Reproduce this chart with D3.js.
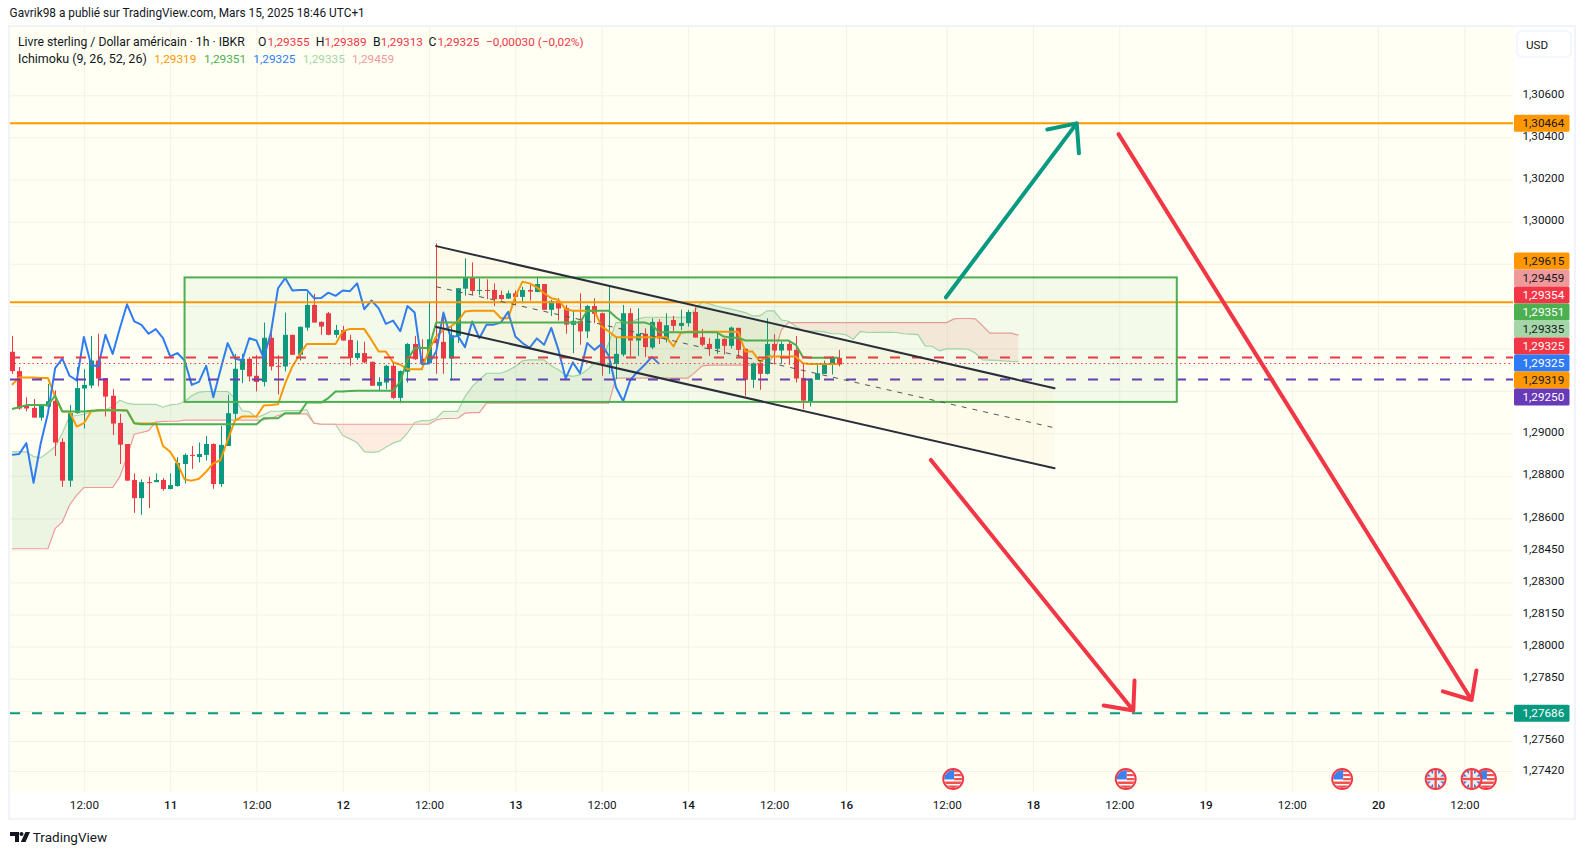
<!DOCTYPE html>
<html><head><meta charset="utf-8">
<script src="https://cdnjs.cloudflare.com/ajax/libs/d3/7.8.5/d3.min.js"></script>
<style>
html,body{margin:0;padding:0;background:#fff;overflow:hidden}
svg{display:block}
text{font-family:"Roboto","Noto Sans",sans-serif;fill:#131722}
.tick text{font-size:11.7px}
</style></head><body><svg id="c" width="1585" height="855"></svg>
<script>
// ---- candles (GBP/USD, 1h)
const openV=[1.29376,1.29285,1.29123,1.29112,1.29066,1.29118,1.29145,1.28952,1.28770,1.29087,
1.29203,1.29217,1.29335,1.29252,1.29169,1.29041,1.28942,1.28773,1.28688,1.28763,
1.28763,1.28773,1.28731,1.28745,1.28848,1.28891,1.28881,1.28891,1.28942,1.28754,
1.28933,1.29084,1.29291,1.29343,1.29263,1.29234,1.29442,1.29310,1.29307,1.29456,
1.29362,1.29490,1.29597,1.29517,1.29558,1.29456,1.29478,1.29432,1.29347,1.29370,
1.29329,1.29216,1.29231,1.29310,1.29159,1.29282,1.29413,1.29344,1.29322,
1.29435,1.29423,1.29344,1.29451,1.29674,1.29726,1.29665,1.29668,1.29668,1.29644,
1.29627,1.29652,1.29635,1.29668,1.29658,1.29696,1.29574,1.29616,1.29583,1.29503,
1.29522,1.29472,1.29592,1.29558,1.29316,1.29319,1.29363,1.29558,1.29429,1.29461,
1.29396,1.29517,1.29435,1.29526,1.29498,1.29511,1.29564,1.29445,1.29413,1.29390,
1.29437,1.29404,1.29489,1.29390,1.29244,1.29322,1.29272,1.29413,1.29382,1.29413,
1.29385,1.29253,1.29140,1.29244,1.29272,1.29315,1.29347];
const highV=[1.29451,1.29304,1.29162,1.29153,1.29126,1.29225,1.29194,1.28969,1.29126,1.29304,
1.29294,1.29451,1.29461,1.29252,1.29200,1.29084,1.28942,1.28804,1.28776,1.28789,
1.28804,1.28782,1.28804,1.28880,1.28898,1.28933,1.28949,1.28980,1.28945,1.29027,
1.29173,1.29366,1.29366,1.29351,1.29360,1.29514,1.29464,1.29360,1.29561,1.29456,
1.29495,1.29655,1.29649,1.29519,1.29564,1.29503,1.29498,1.29456,1.29429,1.29423,
1.29329,1.29256,1.29315,1.29322,1.29288,1.29417,1.29451,1.29435,1.29613,
1.29888,1.29558,1.29495,1.29676,1.29817,1.29798,1.29723,1.29718,1.29699,1.29665,
1.29665,1.29665,1.29683,1.29694,1.29731,1.29696,1.29621,1.29629,1.29597,1.29574,
1.29652,1.29597,1.29629,1.29561,1.29683,1.29448,1.29597,1.29581,1.29581,1.29487,
1.29534,1.29530,1.29558,1.29545,1.29574,1.29574,1.29586,1.29484,1.29440,1.29467,
1.29440,1.29495,1.29489,1.29392,1.29325,1.29332,1.29534,1.29459,1.29424,1.29432,
1.29451,1.29319,1.29249,1.29319,1.29335,1.29354,1.29385];
const lowV=[1.29272,1.29103,1.29095,1.29066,1.29052,1.29118,1.28886,1.28741,1.28741,1.29084,
1.29015,1.29205,1.29213,1.29071,1.28985,1.28848,1.28770,1.28619,1.28610,1.28641,
1.28763,1.28723,1.28729,1.28741,1.28757,1.28825,1.28855,1.28864,1.28732,1.28741,
1.28933,1.29055,1.29228,1.29236,1.29189,1.29213,1.29288,1.29175,1.29283,1.29362,
1.29335,1.29476,1.29514,1.29456,1.29454,1.29442,1.29429,1.29310,1.29338,1.29322,
1.29216,1.29191,1.29200,1.29153,1.29134,1.29231,1.29338,1.29315,1.29322,
1.29272,1.29272,1.29241,1.29417,1.29641,1.29644,1.29643,1.29624,1.29592,1.29618,
1.29625,1.29597,1.29605,1.29618,1.29657,1.29574,1.29545,1.29523,1.29461,1.29370,
1.29409,1.29440,1.29511,1.29263,1.29272,1.29247,1.29354,1.29354,1.29357,1.29351,
1.29388,1.29413,1.29420,1.29473,1.29479,1.29495,1.29443,1.29401,1.29357,1.29366,
1.29363,1.29392,1.29351,1.29169,1.29206,1.29197,1.29269,1.29316,1.29319,1.29315,
1.29231,1.29106,1.29118,1.29244,1.29272,1.29269,1.29307];
const closeV=[1.29285,1.29109,1.29109,1.29066,1.29121,1.29143,1.28949,1.28770,1.29087,1.29205,
1.29220,1.29335,1.29250,1.29165,1.29038,1.28939,1.28770,1.28688,1.28763,1.28760,
1.28773,1.28731,1.28749,1.28853,1.28891,1.28888,1.28895,1.28942,1.28754,1.28938,
1.29087,1.29296,1.29343,1.29260,1.29234,1.29442,1.29307,1.29307,1.29456,1.29362,
1.29494,1.29597,1.29514,1.29495,1.29456,1.29479,1.29429,1.29347,1.29370,1.29326,
1.29216,1.29234,1.29310,1.29159,1.29285,1.29413,1.29341,1.29322,1.29435,
1.29417,1.29344,1.29454,1.29676,1.29726,1.29663,1.29668,1.29665,1.29624,1.29625,
1.29652,1.29635,1.29668,1.29660,1.29696,1.29574,1.29616,1.29580,1.29504,1.29522,
1.29472,1.29592,1.29555,1.29318,1.29322,1.29366,1.29558,1.29429,1.29461,1.29398,
1.29517,1.29439,1.29501,1.29498,1.29512,1.29564,1.29443,1.29409,1.29390,1.29437,
1.29404,1.29490,1.29385,1.29244,1.29322,1.29272,1.29413,1.29382,1.29413,1.29382,
1.29250,1.29146,1.29249,1.29275,1.29315,1.29347,1.29316];
// ---- Ichimoku (9,26,52,26)
const conversion=[1.29220,1.29255,1.29255,1.29255,1.29253,1.29252,1.29165,1.29095,1.29095,1.29024,
1.29040,1.29095,1.29099,1.29101,1.29101,1.29101,1.29099,1.29040,1.29038,1.29038,
1.29040,1.28933,1.28906,1.28851,1.28776,1.28770,1.28779,1.28812,1.28851,1.28867,
1.28961,1.29052,1.29071,1.29071,1.29071,1.29123,1.29125,1.29129,1.29228,1.29307,
1.29362,1.29413,1.29413,1.29413,1.29413,1.29413,1.29472,1.29484,1.29484,1.29483,
1.29432,1.29377,1.29377,1.29327,1.29315,1.29294,1.29294,1.29294,1.29385,
1.29448,1.29479,1.29495,1.29519,1.29566,1.29570,1.29570,1.29570,1.29570,1.29534,
1.29534,1.29636,1.29707,1.29699,1.29680,1.29652,1.29629,1.29621,1.29577,1.29570,
1.29570,1.29570,1.29570,1.29495,1.29472,1.29445,1.29445,1.29445,1.29445,1.29445,
1.29445,1.29445,1.29445,1.29401,1.29464,1.29470,1.29470,1.29470,1.29470,1.29470,
1.29470,1.29470,1.29470,1.29377,1.29377,1.29330,1.29354,1.29354,1.29354,1.29354,
1.29354,1.29322,1.29319,1.29319,1.29319,1.29319,1.29319];
const base=[1.29107,1.29115,1.29125,1.29125,1.29125,1.29126,1.29169,1.29095,1.29095,1.29095,
1.29095,1.29098,1.29101,1.29101,1.29101,1.29101,1.29099,1.29040,1.29035,1.29035,
1.29035,1.29035,1.29035,1.29035,1.29035,1.29035,1.29035,1.29035,1.29035,1.29035,
1.29035,1.29035,1.29035,1.29035,1.29035,1.29063,1.29063,1.29063,1.29087,1.29087,
1.29087,1.29137,1.29137,1.29137,1.29158,1.29189,1.29189,1.29191,1.29192,1.29192,
1.29192,1.29192,1.29192,1.29192,1.29236,1.29338,1.29393,1.29395,1.29393,
1.29514,1.29514,1.29514,1.29514,1.29514,1.29514,1.29514,1.29514,1.29514,1.29514,
1.29514,1.29514,1.29514,1.29514,1.29514,1.29514,1.29514,1.29514,1.29514,1.29514,
1.29514,1.29570,1.29570,1.29570,1.29570,1.29539,1.29514,1.29514,1.29514,1.29514,
1.29503,1.29468,1.29468,1.29468,1.29468,1.29468,1.29468,1.29468,1.29468,1.29468,
1.29448,1.29442,1.29442,1.29429,1.29429,1.29429,1.29429,1.29429,1.29429,1.29429,
1.29409,1.29351,1.29348,1.29348,1.29348,1.29348,1.29348];
const lagging=[1.28891,1.28895,1.28946,1.28760,1.28946,1.29087,1.29299,1.29344,1.29263,1.29241,
1.29446,1.29315,1.29307,1.29456,1.29366,1.29487,1.29600,1.29519,1.29503,1.29461,
1.29483,1.29440,1.29354,1.29370,1.29335,1.29220,1.29234,1.29310,1.29162,1.29291,
1.29417,1.29344,1.29335,1.29440,1.29429,1.29346,1.29464,1.29676,1.29724,1.29665,
1.29668,1.29668,1.29629,1.29630,1.29655,1.29640,1.29665,1.29662,1.29699,1.29577,
1.29618,1.29581,1.29508,1.29523,1.29473,1.29592,1.29561,1.29319,1.29321,
1.29377,1.29561,1.29445,1.29451,1.29398,1.29519,1.29440,1.29504,1.29504,1.29514,
1.29564,1.29448,1.29417,1.29395,1.29439,1.29409,1.29489,1.29385,1.29250,1.29326,
1.29275,1.29417,1.29385,1.29412,1.29357,1.29209,1.29143,1.29244,1.29282,1.29315,
1.29352,1.29319];
const spanA=[1.28905,1.28906,1.28905,1.28883,1.28878,1.28902,1.28930,1.28993,1.29071,1.29076,
1.29082,1.29095,1.29103,1.29103,1.29118,1.29148,1.29134,1.29128,1.29128,1.29128,
1.29128,1.29115,1.29126,1.29129,1.29142,1.29169,1.29186,1.29189,1.29189,1.29189,
1.29189,1.29158,1.29098,1.29095,1.29066,1.29079,1.29096,1.29096,1.29099,1.29099,
1.29099,1.29103,1.29040,1.29035,1.29035,1.29035,1.28982,1.28966,1.28949,1.28906,
1.28903,1.28906,1.28927,1.28946,1.28958,1.28993,1.29043,1.29052,1.29052,
1.29063,1.29095,1.29095,1.29095,1.29165,1.29212,1.29244,1.29275,1.29275,1.29275,
1.29288,1.29307,1.29333,1.29338,1.29338,1.29338,1.29310,1.29291,1.29267,1.29260,
1.29267,1.29291,1.29322,1.29333,1.29417,1.29514,1.29514,1.29514,1.29530,1.29539,
1.29539,1.29539,1.29539,1.29539,1.29539,1.29539,1.29574,1.29613,1.29602,1.29592,
1.29583,1.29577,1.29569,1.29561,1.29545,1.29545,1.29569,1.29569,1.29526,1.29520,
1.29495,1.29476,1.29473,1.29473,1.29470,1.29461,1.29461,1.29456,1.29435,1.29472,
1.29467,1.29468,1.29468,1.29468,1.29467,1.29461,1.29459,1.29457,1.29404,1.29402,
1.29380,1.29390,1.29390,1.29390,1.29388,1.29369,1.29338,1.29337,1.29336,1.29333,
1.29331,1.29330];
const spanB=[1.28451,1.28451,1.28451,1.28451,1.28451,1.28451,1.28545,1.28577,1.28655,1.28702,
1.28738,1.28738,1.28738,1.28738,1.28738,1.28789,1.28883,1.28988,1.28996,1.29005,
1.29045,1.29048,1.29049,1.29049,1.29054,1.29054,1.29054,1.29054,1.29054,1.29054,
1.29054,1.29054,1.29054,1.29054,1.29054,1.29055,1.29063,1.29076,1.29084,1.29084,
1.29084,1.29084,1.29040,1.29035,1.29035,1.29035,1.29035,1.29035,1.29035,1.29035,
1.29035,1.29035,1.29035,1.29035,1.29035,1.29035,1.29035,1.29035,1.29035,
1.29055,1.29062,1.29062,1.29063,1.29087,1.29090,1.29090,1.29134,1.29134,1.29134,
1.29134,1.29134,1.29134,1.29134,1.29134,1.29134,1.29134,1.29134,1.29134,1.29134,
1.29134,1.29134,1.29134,1.29134,1.29134,1.29252,1.29252,1.29252,1.29252,1.29252,
1.29252,1.29252,1.29252,1.29252,1.29252,1.29252,1.29279,1.29310,1.29313,1.29313,
1.29313,1.29313,1.29313,1.29313,1.29313,1.29313,1.29313,1.29362,1.29479,1.29514,
1.29514,1.29514,1.29514,1.29514,1.29514,1.29514,1.29514,1.29514,1.29514,1.29514,
1.29514,1.29514,1.29514,1.29514,1.29514,1.29514,1.29514,1.29514,1.29514,1.29514,
1.29514,1.29514,1.29531,1.29533,1.29533,1.29531,1.29498,1.29464,1.29464,1.29464,
1.29464,1.29454];
// ---- axes
const priceTicks=[1.306,1.304,1.302,1.300,1.298,1.296,1.294,1.292,1.290,1.288,1.286,1.2845,1.283,1.2815,1.280,1.2785,1.277,1.2756,1.2742];
const hiddenPriceLabels=[1.298,1.296,1.294,1.292,1.277];
const timeTicks=[10,22,34,46,58,70,82,94,106,116,130,142,154,166,178,190,202];
const timeLabels=["12:00","11","12:00","12","12:00","13","12:00","14","12:00","16","12:00","18","12:00","19","12:00","20","12:00"];
// ---- drawings (bar index, price)
const hLevels=[1.30464,1.29615,1.29354,1.29325,1.29250,1.27686];
const rectBars=[24,162], rectPrices=[1.29727,1.29140];
const channelBars=[59,145];
const channelUpper=[1.29875,1.29204], channelMid=[1.29683,1.29018], channelLower=[1.29493,1.28828];
const arrowBars=[[129.9,148.08],[127.8,155.95],[153.9,203]];
const arrowPrices=[[1.29633,1.30457],[1.28867,1.27696],[1.30406,1.27745]];
const usEvents=[130.9,154.9,185,205], ukEvents=[198,203];
const badgeValues=[1.29615,1.29459,1.29354,1.29351,1.29335,1.29325,1.29325,1.29319,1.29250];

const fmt=v=>d3.format(".5f")(v).replace(".",",");
const svg=d3.select("#c");
const L=10,R=1513,T=27,B=791.7;
const x=d3.scaleLinear().domain([-0.278,208.76]).range([L,R]);
const y=d3.scaleLog().domain([1.30926,1.27324]).range([T,B]);
const yS=d3.scaleLog().domain([1.30916,1.27319]).range([T,B]);
const RED="#f23645",GRN="#089981",ORG="#ff9800",BASEC="#4caf50",BLU="#2f7bf5",PUR="#673ab7";

// frame & background
svg.append("rect").attr("x",L-1).attr("y",T-1).attr("width",1575-L+1).attr("height",819-T+1).attr("fill","#fff").attr("stroke","#f0f3fa").attr("stroke-width",2);
svg.append("rect").attr("x",L).attr("y",T).attr("width",R-L).attr("height",B-T).attr("fill","#fffff4");
svg.append("defs").append("clipPath").attr("id","plot").append("rect").attr("x",L).attr("y",T).attr("width",R-L).attr("height",B-T);

// grid and axes through d3 axes
const gridC="#f2f2e6";
const gy=svg.append("g").attr("transform",`translate(${L},0)`).call(d3.axisRight(y).tickValues(priceTicks).tickSize(R-L).tickFormat(""));
gy.select(".domain").remove(); gy.selectAll("line").attr("stroke",gridC);
const gx=svg.append("g").attr("transform",`translate(0,${T})`).call(d3.axisBottom(x).tickValues(timeTicks).tickSize(B-T).tickFormat(""));
gx.select(".domain").remove(); gx.selectAll("line").attr("stroke",gridC);
const ay=svg.append("g").attr("transform",`translate(1522.5,-1.7)`).call(d3.axisRight(y).tickValues(priceTicks.filter(p=>!hiddenPriceLabels.includes(p))).tickSize(0).tickPadding(0).tickFormat(fmt));
ay.select(".domain").remove(); ay.selectAll("text").style("fill","#131722").attr("x",0);
const ax=svg.append("g").attr("transform",`translate(0,${B+9})`).call(d3.axisBottom(x).tickValues(timeTicks).tickSize(0).tickPadding(0).tickFormat((d,i)=>timeLabels[i]));
ax.select(".domain").remove(); ax.selectAll("text").style("font-weight",(d,i)=>timeLabels[i].includes(":")?400:500);

const plot=svg.append("g").attr("clip-path","url(#plot)");
const ix=d3.range(spanA.length);

// cloud
const defs=svg.select("defs");
const spanBLine=d3.line().x(i=>x(i)).y(i=>yS(spanB[i]));
defs.append("clipPath").attr("id","aboveB").append("path").attr("d",d3.area().x(i=>x(i)).y0(0).y1(i=>yS(spanB[i]))(ix));
defs.append("clipPath").attr("id","belowB").append("path").attr("d",d3.area().x(i=>x(i)).y0(855).y1(i=>yS(spanB[i]))(ix));
const cloud=d3.area().x(i=>x(i)).y0(i=>yS(spanA[i])).y1(i=>yS(spanB[i]));
plot.append("g").attr("clip-path","url(#aboveB)").append("path").attr("d",cloud(ix)).attr("fill","rgba(67,160,71,0.10)");
plot.append("g").attr("clip-path","url(#belowB)").append("path").attr("d",cloud(ix)).attr("fill","rgba(244,67,54,0.10)");
plot.append("path").attr("d",d3.line().x(i=>x(i)).y(i=>yS(spanA[i]))(ix)).attr("fill","none").attr("stroke","#a5d6a7").attr("stroke-width",1.2);
plot.append("path").attr("d",spanBLine(ix)).attr("fill","none").attr("stroke","#ef9a9a").attr("stroke-width",1.2);

// candles
const candles=plot.append("g").selectAll("g").data(openV.map((o,i)=>({i,o,h:highV[i],l:lowV[i],c:closeV[i]}))).join("g");
const colr=d=>d.c>=d.o?GRN:RED;
candles.append("line").attr("x1",d=>Math.round(x(d.i))+.5).attr("x2",d=>Math.round(x(d.i))+.5).attr("y1",d=>yS(d.h)).attr("y2",d=>yS(d.l)).attr("stroke",colr).attr("stroke-width",1);
candles.append("rect").attr("x",d=>Math.round(x(d.i))-2).attr("width",5).attr("y",d=>yS(Math.max(d.o,d.c))).attr("height",d=>Math.max(1,Math.abs(yS(d.o)-yS(d.c)))).attr("fill",colr);

// ichimoku lines
const ln=(arr,col)=>plot.append("path").attr("d",d3.line().x((d,i)=>x(i)).y(d=>yS(d))(arr)).attr("fill","none").attr("stroke",col).attr("stroke-width",2).attr("stroke-linejoin","round");
ln(conversion,ORG); ln(lagging,BLU); ln(base,BASEC);

// horizontal levels
const hStyle=[[ORG,2,null],[ORG,2,null],[RED,2,"10 12"],[RED,1,"1.5 3"],[PUR,2,"10 12"],[GRN,2,"10 12"]];
hLevels.forEach((p,i)=>{const l=plot.append("line").attr("x1",L).attr("x2",R).attr("y1",y(p)-.7).attr("y2",y(p)-.7).attr("stroke",hStyle[i][0]).attr("stroke-width",hStyle[i][1]);if(hStyle[i][2])l.attr("stroke-dasharray",hStyle[i][2]);});

// rectangle
plot.append("rect").attr("x",x(rectBars[0])).attr("y",yS(rectPrices[0])).attr("width",x(rectBars[1])-x(rectBars[0])).attr("height",yS(rectPrices[1])-yS(rectPrices[0])).attr("fill","rgba(76,175,80,0.06)").attr("stroke",BASEC).attr("stroke-width",2);

// channel
const cx=channelBars.map(b=>x(b));
plot.append("path").attr("d",`M${cx[0]},${yS(channelUpper[0])}L${cx[1]},${yS(channelUpper[1])}L${cx[1]},${yS(channelLower[1])}L${cx[0]},${yS(channelLower[0])}Z`).attr("fill","rgba(255,152,0,0.035)");
[channelUpper,channelLower].forEach(c=>plot.append("line").attr("x1",cx[0]).attr("x2",cx[1]).attr("y1",yS(c[0])).attr("y2",yS(c[1])).attr("stroke","#2a2e39").attr("stroke-width",2).attr("stroke-linecap","round"));
plot.append("line").attr("x1",cx[0]).attr("x2",cx[1]).attr("y1",yS(channelMid[0])).attr("y2",yS(channelMid[1])).attr("stroke","#555").attr("stroke-width",1).attr("stroke-dasharray","5 6");

// arrows
const arrowCols=[GRN,RED,RED];
arrowBars.forEach((b,k)=>{
  const x0=x(b[0]),y0=yS(arrowPrices[k][0]),x1=x(b[1]),y1=yS(arrowPrices[k][1]);
  const a=Math.atan2(y0-y1,x0-x1),len=30,ang=0.72;
  const d=`M${x0},${y0}L${x1},${y1}M${x1+len*Math.cos(a+ang)},${y1+len*Math.sin(a+ang)}L${x1},${y1}L${x1+len*Math.cos(a-ang)},${y1+len*Math.sin(a-ang)}`;
  plot.append("path").attr("d",d).attr("fill","none").attr("stroke",arrowCols[k]).attr("stroke-width",4).attr("stroke-linecap","round").attr("stroke-linejoin","round");
});

// event flags
const flagY=779,flagR=10;
function flag(i,kind){
  const cxx=x(i),id="f"+kind+i; 
  defs.append("clipPath").attr("id",id).append("circle").attr("cx",cxx).attr("cy",flagY).attr("r",flagR-1);
  const g=svg.append("g");
  const c=g.append("g").attr("clip-path",`url(#${id})`);
  c.append("rect").attr("x",cxx-flagR).attr("y",flagY-flagR).attr("width",2*flagR).attr("height",2*flagR).attr("fill","#fff");
  if(kind=="us"){
    c.append("rect").attr("x",cxx-flagR).attr("y",flagY-flagR).attr("width",flagR*1.1).attr("height",flagR*1.05).attr("fill","#3b82f0");
    [[-9,2.2],[-5,2.2],[-1,2.2],[2.5,2.5],[6.5,4]].forEach(s=>{
      c.append("rect").attr("x",s[0]<0?cxx+1:cxx-flagR).attr("y",flagY+s[0]).attr("width",s[0]<0?flagR:2*flagR).attr("height",s[1]).attr("fill","#f0524f");
    });
  } else {
    c.append("rect").attr("x",cxx-flagR).attr("y",flagY-flagR).attr("width",2*flagR).attr("height",2*flagR).attr("fill","#3f6fc4");
    [[1,1],[1,-1]].forEach(s=>c.append("line").attr("x1",cxx-flagR*s[0]).attr("y1",flagY-flagR*s[1]).attr("x2",cxx+flagR*s[0]).attr("y2",flagY+flagR*s[1]).attr("stroke","#e8edf5").attr("stroke-width",3.4));
    c.append("rect").attr("x",cxx-flagR).attr("y",flagY-2.5).attr("width",2*flagR).attr("height",5).attr("fill","#f2f4f8");
    c.append("rect").attr("x",cxx-2.5).attr("y",flagY-flagR).attr("width",5).attr("height",2*flagR).attr("fill","#f2f4f8");
    c.append("rect").attr("x",cxx-flagR).attr("y",flagY-1.2).attr("width",2*flagR).attr("height",2.4).attr("fill","#ee4f4c");
    c.append("rect").attr("x",cxx-1.2).attr("y",flagY-flagR).attr("width",2.4).attr("height",2*flagR).attr("fill","#ee4f4c");
  }
  g.append("circle").attr("cx",cxx).attr("cy",flagY).attr("r",flagR).attr("fill","none").attr("stroke",RED).attr("stroke-width",1.8);
}
[...usEvents.map(i=>[i,"us"]),...ukEvents.map(i=>[i,"uk"])].forEach(a=>flag(a[0],a[1]));

// price badges
function badge(v,cy,bg,fg){
  svg.append("rect").attr("x",1514).attr("y",cy-8.5).attr("width",55.5).attr("height",17).attr("rx",1.5).attr("fill",bg);
  svg.append("text").attr("x",1522.5).attr("y",cy).attr("dy","0.36em").style("font-size","11.7px").style("fill",fg).text(fmt(v));
}
badge(hLevels[0],y(hLevels[0])-.7,ORG,"#131722");
badge(hLevels[5],y(hLevels[5])-.7,GRN,"#fff");
const bc=[[ORG,"#131722"],["#ef9a9a","#131722"],[RED,"#fff"],[BASEC,"#fff"],["#a5d6a7","#131722"],[RED,"#fff"],[BLU,"#fff"],[ORG,"#131722"],[PUR,"#fff"]];
badgeValues.forEach((v,i)=>badge(v,261+17*i,bc[i][0],bc[i][1]));

// USD
svg.append("rect").attr("x",1517).attr("y",31).attr("width",54).attr("height",26).attr("rx",5).attr("fill","#fff").attr("stroke","#f0f3fa").attr("stroke-width",1.5);
svg.append("text").attr("x",1526).attr("y",44.7).attr("dy","0.36em").style("font-size","11.7px").text("USD");

// header and legend
const t=(s,xx,yy,col,size)=>svg.append("text").attr("x",xx).attr("y",yy).attr("dy","0.36em").style("font-size",(size||12)+"px").style("fill",col||"#131722").text(s);
t("Gavrik98 a publié sur TradingView.com, Mars 15, 2025 18:46 UTC+1",9.6,13,"#131722",11.85);
t("Livre sterling / Dollar américain · 1h · IBKR",18,41.5,"#131722",12.2);
[["O",258],["H",315.7],["B",373],["C",428.6]].forEach(a=>t(a[0],a[1],41.5,"#131722",12.2));
[["1,29355",267.5],["1,29389",324.5],["1,29313",380.8],["1,29325",437.4],["−0,00030 (−0,02%)",486]].forEach(a=>t(a[0],a[1],41.5,RED,11.8));
t("Ichimoku (9, 26, 52, 26)",18,58.5,"#131722",12.5);
[["1,29319",154.2,ORG],["1,29351",204,BASEC],["1,29325",253.3,BLU],["1,29335",302.7,"#a5d6a7"],["1,29459",352,"#ef9a9a"]].forEach(a=>t(a[0],a[1],58.5,a[2],11.8));

// TradingView mark
const logo=svg.append("g").attr("transform","translate(10,832)").attr("fill","#131722");
logo.append("path").attr("d","M0 0H9V10H5V4H0Z");
logo.append("circle").attr("cx",11.5).attr("cy",2).attr("r",2);
logo.append("path").attr("d","M15.5 0H20L15.5 10H10.8Z");
t("TradingView",32.8,837,"#131722",13.5);
</script></body></html>
